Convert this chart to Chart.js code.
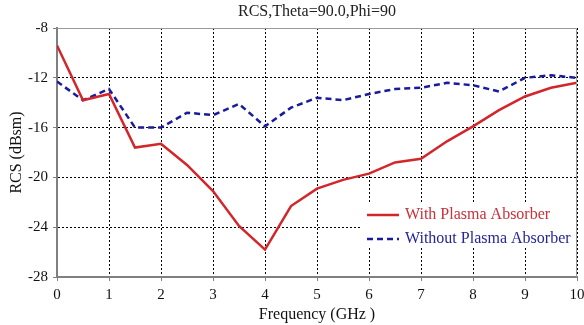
<!DOCTYPE html>
<html>
<head>
<meta charset="utf-8">
<script src="https://cdn.jsdelivr.net/npm/chart.js@4/dist/chart.umd.min.js"></script>
<style>
  html, body { margin:0; padding:0; background:#fff; }
  #wrap { width:584px; height:325px; }
</style>
</head>
<body>
<div id="wrap"><canvas id="rcsChart" width="584" height="325"></canvas></div>
<script>
/* ---------- Data ---------- */
const freqs = [0, 0.5, 1, 1.5, 2, 2.5, 3, 3.5, 4, 4.5, 5, 5.5, 6, 6.5, 7, 7.5, 8, 8.5, 9, 9.5, 10];
const withAbsorber = [-9.4, -13.8, -13.3, -17.6, -17.3, -19.0, -21.1, -23.9, -25.8, -22.3, -20.9, -20.2, -19.7, -18.8, -18.5, -17.1, -15.9, -14.6, -13.5, -12.8, -12.4];
const withoutAbsorber = [-12.3, -13.8, -12.9, -16.0, -16.0, -14.8, -15.0, -14.1, -15.9, -14.4, -13.6, -13.8, -13.3, -12.9, -12.8, -12.4, -12.6, -13.1, -12.0, -11.8, -12.0];
const xTicks = [0, 1, 2, 3, 4, 5, 6, 7, 8, 9, 10];
const yTicks = [-28, -24, -20, -16, -12, -8];
const chartTitle = 'RCS,Theta=90.0,Phi=90';

const SERIF = "'Liberation Serif', 'Times New Roman', serif";
const toPoints = arr => arr.map((v, i) => ({ x: freqs[i], y: v }));

/* ---------- Title over plot, frame (top/right border), legend inside plot ---------- */
const framePlugin = {
  id: 'frame',
  afterDatasetsDraw(chart){
    const { ctx, chartArea: a } = chart;
    ctx.save();
    ctx.strokeStyle = '#9a9a9a';
    ctx.lineWidth = 1;
    ctx.beginPath();
    ctx.moveTo(a.left, a.top + 0.5);
    ctx.lineTo(a.right - 0.5, a.top + 0.5);
    ctx.lineTo(a.right - 0.5, a.bottom);
    ctx.stroke();

    // title, centred on the plot area
    ctx.font = '16px ' + SERIF;
    ctx.fillStyle = '#222';
    ctx.textAlign = 'center';
    ctx.textBaseline = 'middle';
    ctx.fillText(chartTitle, (a.left + a.right) / 2, 12);

    // legend box
    const bx = 362, by = 203, bw = a.right - 1 - bx, bh = 45;
    ctx.fillStyle = '#fff';
    ctx.fillRect(bx, by, bw, bh);
    const items = [
      { ds: chart.data.datasets[0], y: 215, text: '#c8303a' },
      { ds: chart.data.datasets[1], y: 239, text: '#25259a' }
    ];
    ctx.textAlign = 'left';
    items.forEach(it => {
      ctx.strokeStyle = it.ds.borderColor;
      ctx.lineWidth = it.ds.borderWidth;
      ctx.setLineDash(it.ds.borderDash || []);
      ctx.beginPath();
      ctx.moveTo(367, it.y);
      ctx.lineTo(399, it.y);
      ctx.stroke();
      ctx.setLineDash([]);
      ctx.fillStyle = it.text;
      ctx.fillText(it.ds.label, 405, it.y);
    });
    ctx.restore();
  }
};

new Chart(document.getElementById('rcsChart').getContext('2d'), {
  type: 'line',
  data: {
    datasets: [
      {
        label: 'With Plasma Absorber',
        data: toPoints(withAbsorber),
        borderColor: '#d2262a', borderWidth: 2.5,
        pointRadius: 0, tension: 0, fill: false
      },
      {
        label: 'Without Plasma Absorber',
        data: toPoints(withoutAbsorber),
        borderColor: '#1a1a9c', borderWidth: 2.5, borderDash: [6, 4],
        pointRadius: 0, tension: 0, fill: false
      }
    ]
  },
  options: {
    responsive: false,
    animation: false,
    layout: { padding: { left: 0, right: 0, top: 28, bottom: 0 } },
    plugins: {
      legend: { display: false },
      tooltip: { enabled: false },
      title: { display: false }
    },
    scales: {
      x: {
        type: 'linear', min: 0, max: 10,
        afterBuildTicks: s => { s.ticks = xTicks.map(v => ({ value: v })); },
        afterFit: s => { s.height = 48; s.paddingLeft = 0; s.paddingRight = 7; },
        grid: { color: '#000', lineWidth: 1, tickLength: 4, tickColor: '#808080', tickBorderDash: [] },
        border: { display: true, color: '#808080', width: 2, dash: [2, 2] },
        ticks: { color: '#111', padding: 5, font: { family: SERIF, size: 15 }, maxRotation: 0 },
        title: {
          display: true, text: 'Frequency (GHz )', color: '#111',
          font: { family: SERIF, size: 16 }, padding: { top: 0, bottom: 0.5 }
        }
      },
      y: {
        type: 'linear', min: -28, max: -8,
        afterBuildTicks: s => { s.ticks = yTicks.map(v => ({ value: v })); },
        afterFit: s => { s.width = 57; },
        grid: { color: '#000', lineWidth: 1, tickLength: 4, tickColor: '#808080', tickBorderDash: [] },
        border: { display: true, color: '#808080', width: 2, dash: [2, 2] },
        ticks: { color: '#111', padding: 5, font: { family: SERIF, size: 15 } },
        title: {
          display: true, text: 'RCS (dBsm)', color: '#111',
          font: { family: SERIF, size: 16 }, padding: { top: 7, bottom: 0 }
        }
      }
    }
  },
  plugins: [framePlugin]
});
</script>
</body>
</html>
